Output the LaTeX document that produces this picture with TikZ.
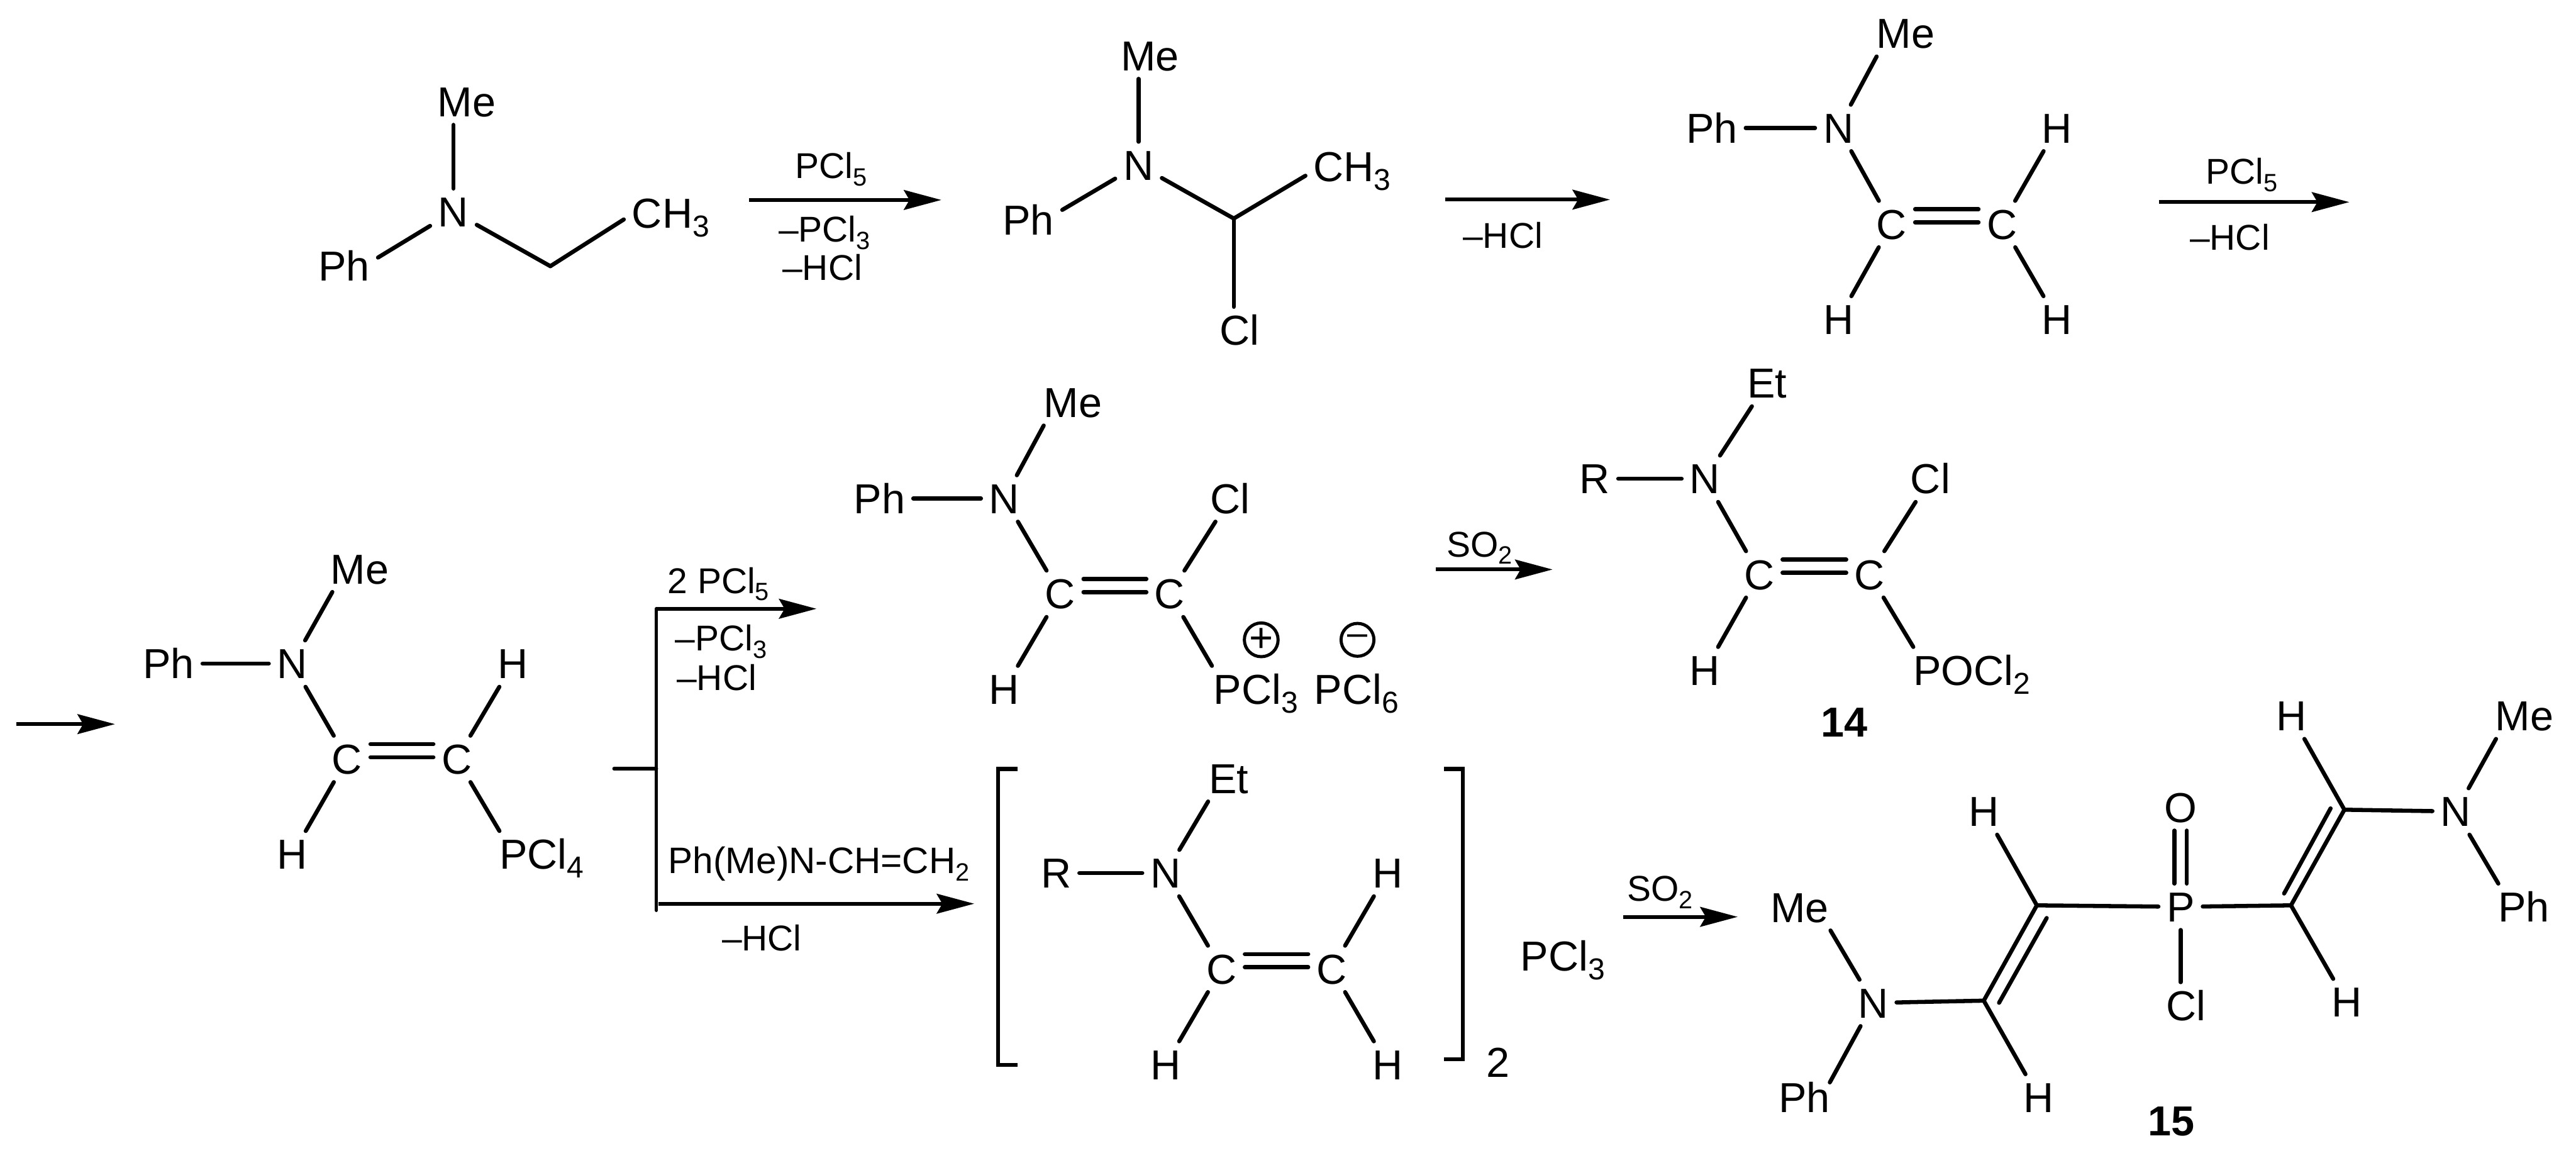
\documentclass[tikz,border=0pt]{standalone}
\usepackage{fontspec}
\setmainfont{Liberation Sans}
\usetikzlibrary{arrows.meta}
\newcommand{\subA}[1]{\raisebox{-2.7pt}{\fontsize{9.2}{11}\selectfont #1}}
\newcommand{\subB}[1]{\raisebox{-2.25pt}{\fontsize{7.6}{9}\selectfont #1}}
\newcommand{\dbl}[2]{%
  \draw[bond] ([yshift=4.5pt]#1.east) -- ([yshift=4.5pt]#2.west);
  \draw[bond] ([yshift=.5pt]#1.east) -- ([yshift=.5pt]#2.west);}
\tikzset{
  atom/.style={inner sep=0pt,outer sep=2.5pt,anchor=base,text height=9.13pt,text depth=0pt,font=\fontsize{12.75}{15}\selectfont},
  atomw/.style={atom,anchor=base west,xshift=-2.5pt},
  reag/.style={inner sep=0pt,outer sep=0pt,anchor=base west,font=\fontsize{10.9}{13}\selectfont},
  cmpd/.style={inner sep=0pt,anchor=base,font=\fontsize{12.75}{15}\selectfont\bfseries},
  bond/.style={line width=1.25pt,line cap=round,line join=miter},
  rxn/.style={line width=1.15pt,-{Stealth[length=11.4pt,width=6pt,inset=1.7pt]}},
  branch/.style={line width=1.1pt,line cap=round},
  brack/.style={line width=1.2pt,line join=miter},
  chg/.style={circle,draw,line width=.95pt,inner sep=0pt,minimum size=10pt,font=\fontsize{12.5}{12.5}\selectfont}
}
\begin{document}
\begin{tikzpicture}[x=0.5pt,y=-0.5pt]
\useasboundingbox (0,0) rectangle (1568,704.56);
% ---------- molecule 1
\node[atom] (aMe) at (284,71) {Me};
\node[atom] (aN) at (276,138) {N};
\node[atom] (aPh) at (209.5,171) {Ph};
\node[atomw] (aCH) at (384.7,138.7) {CH\subA{3}};
\coordinate (aJ) at (335,162);
\draw[bond] (aN) -- (aMe.south -| aN);
\draw[bond] (aN) -- ([yshift=-4.5pt]aPh.north east);
\draw[bond] (aN) -- (aJ);
\draw[bond] (aJ) -- ([yshift=-2pt]aCH.west);
% arrow 1
\coordinate (r1s) at (456,121.7); \coordinate (r1e) at (573,121.7);
\draw[rxn] (r1s) -- (r1e);
\node[reag] (r1a) at (484,108.7) {PCl\subB{5}};
\node[reag] (r1b) at (474,147.3) {–PCl\subB{3}};
\node[reag] (r1c) at (476.3,170.6) {–HCl};
% ---------- molecule 2
\node[atom] (bMe) at (700,43) {Me};
\node[atom] (bN) at (693,109.5) {N};
\node[atom] (bPh) at (626,143) {Ph};
\node[atomw] (bCH) at (799.6,110.5) {CH\subA{3}};
\node[atom] (bCl) at (754.5,210) {Cl};
\coordinate (bJ) at (751,133);
\draw[bond] (bN) -- (bMe.south -| bN);
\draw[bond] (bN) -- ([yshift=-4pt]bPh.north east);
\draw[bond] (bN) -- (bJ);
\draw[bond] (bJ) -- ([yshift=-2.8pt]bCH.west);
\draw[bond] (bJ) -- (bCl.north -| bJ);
% arrow 2
\coordinate (r2s) at (879.6,121.5); \coordinate (r2e) at (980,121.5);
\draw[rxn] (r2s) -- (r2e);
\node[reag] (r2a) at (890.5,151) {–HCl};
% ---------- molecule 3
\node[atom] (cMe) at (1160,29.4) {Me};
\node[atom] (cPh) at (1042,87) {Ph};
\node[atom] (cN) at (1119,87) {N};
\node[atom] (cH1) at (1252,87) {H};
\node[atom] (cC1) at (1151.5,145.5) {C};
\node[atom] (cC2) at (1218.5,145.5) {C};
\node[atom] (cH2) at (1119,203.5) {H};
\node[atom] (cH3) at (1252,203.5) {H};
\draw[bond] (cN) -- ([xshift=2.5pt]cMe.south west);
\draw[bond] (cPh) -- (cN);
\draw[bond] (cN) -- (cC1);
\draw[bond] (cC2) -- (cH1);
\draw[bond] (cC1) -- (cH2);
\draw[bond] (cC2) -- (cH3);
\dbl{cC1}{cC2}
% arrow 3
\coordinate (r3s) at (1314,123); \coordinate (r3e) at (1430,123);
\draw[rxn] (r3s) -- (r3e);
\node[reag] (r3a) at (1342.8,112) {PCl\subB{5}};
\node[reag] (r3b) at (1333,152.3) {–HCl};
% ---------- row 2 start arrow
\coordinate (r4s) at (9.8,440.7); \coordinate (r4e) at (70,440.7);
\draw[rxn] (r4s) -- (r4e);
% ---------- molecule 4
\node[atom] (dMe) at (219,355.3) {Me};
\node[atom] (dPh) at (102.7,413) {Ph};
\node[atom] (dN) at (177.8,413) {N};
\node[atom] (dH1) at (312.3,413) {H};
\node[atom] (dC1) at (211.3,471) {C};
\node[atom] (dC2) at (278,471) {C};
\node[atom] (dH2) at (178,529) {H};
\node[atomw] (dP) at (304,529) {PCl\subA{4}};
\draw[bond] (dN) -- ([xshift=3pt]dMe.south west);
\draw[bond] (dPh) -- (dN);
\draw[bond] (dN) -- (dC1);
\draw[bond] (dC2) -- (dH1);
\draw[bond] (dC1) -- (dH2);
\draw[bond] (dC2) -- ([xshift=2.5pt]dP.north west);
\dbl{dC1}{dC2}
% ---------- branching
\coordinate (sS) at (373.8,467.9); \coordinate (sE) at (399.5,467.9);
\coordinate (bT) at (399.5,370.5); \coordinate (bB) at (399.5,554);
\draw[branch] (bT) -- (bB);
\draw[branch] (sS) -- (sE);
\coordinate (r5e) at (497,370.5);
\draw[rxn] (bT) -- (r5e);
\coordinate (r6s) at (400.7,550); \coordinate (r6e) at (593,550);
\draw[rxn] (r6s) -- (r6e);
\node[reag] (r5a) at (406.4,361) {2 PCl\subB{5}};
\node[reag] (r5b) at (411,396) {–PCl\subB{3}};
\node[reag] (r5c) at (412,420) {–HCl};
\node[reag,font=\fontsize{11.2}{13}\selectfont] (r6a) at (406.8,531.6) {Ph(Me)N-CH=CH\subB{2}};
\node[reag] (r6b) at (439.5,578.7) {–HCl};
% ---------- molecule 5
\node[atom] (eMe) at (653,254) {Me};
\node[atom] (ePh) at (535.3,312.5) {Ph};
\node[atom] (eN) at (611.3,312.5) {N};
\node[atom] (eCl) at (748.8,312.5) {Cl};
\node[atom] (eC1) at (645.3,370.5) {C};
\node[atom] (eC2) at (712,370.5) {C};
\node[atom] (eH) at (611.3,428.5) {H};
\node[atomw] (eP) at (738.7,428.5) {PCl\subA{3}};
\node[atomw] (eQ) at (800,428.5) {PCl\subA{6}};
\node[chg] (ePlus) at (767.7,389.4) {+};
\node[chg,font=\fontsize{11}{11}\selectfont] (eMinus) at (826.3,389.4) {–};
\draw[bond] (eN) -- ([xshift=2.5pt]eMe.south west);
\draw[bond] (ePh) -- (eN);
\draw[bond] (eN) -- (eC1);
\draw[bond] (eC2) -- (eCl);
\draw[bond] (eC1) -- (eH);
\draw[bond] (eC2) -- ([xshift=2pt]eP.north west);
\dbl{eC1}{eC2}
% arrow SO2 -> 14
\coordinate (r7s) at (873.9,346.6); \coordinate (r7e) at (945,346.6);
\draw[rxn] (r7s) -- (r7e);
\node[reag] (r7a) at (880.5,338.8) {SO\subB{2}};
% ---------- molecule 14
\node[atom] (fEt) at (1075.5,242.3) {Et};
\node[atom] (fR) at (970.8,300.5) {R};
\node[atom] (fN) at (1037.8,300.5) {N};
\node[atom] (fCl) at (1175,300.5) {Cl};
\node[atom] (fC1) at (1070.8,358.7) {C};
\node[atom] (fC2) at (1138,358.7) {C};
\node[atom] (fH) at (1037.8,417) {H};
\node[atomw] (fP) at (1164.6,417) {POCl\subA{2}};
\node[cmpd] (f14) at (1122.7,448.5) {14};
\draw[bond] (fN) -- (fEt);
\draw[bond] (fR) -- (fN);
\draw[bond] (fN) -- (fC1);
\draw[bond] (fC2) -- (fCl);
\draw[bond] (fC1) -- (fH);
\draw[bond] (fC2) -- ([xshift=2.5pt]fP.north west);
\dbl{fC1}{fC2}
% ---------- bracketed species
\coordinate (lbA) at (619.3,468); \coordinate (lbB) at (607.5,468);
\coordinate (lbC) at (607.5,648); \coordinate (lbD) at (619.3,648);
\draw[brack] (lbA) -- (lbB) -- (lbC) -- (lbD);
\coordinate (rbA) at (879,468); \coordinate (rbB) at (890.5,468);
\coordinate (rbC) at (890.5,644.6); \coordinate (rbD) at (879,644.6);
\draw[brack] (rbA) -- (rbB) -- (rbC) -- (rbD);
\node[atom] (gEt) at (748,482.8) {Et};
\node[atom] (gR) at (642.8,540.5) {R};
\node[atom] (gN) at (709.5,540.5) {N};
\node[atom] (gH1) at (844.5,540.5) {H};
\node[atom] (gC1) at (743.5,598.8) {C};
\node[atom] (gC2) at (810.5,598.8) {C};
\node[atom] (gH2) at (709.5,657) {H};
\node[atom] (gH3) at (844.5,657) {H};
\node[atom] (gTwo) at (912,655.5) {2};
\node[atomw] (gP) at (925.6,591) {PCl\subA{3}};
\draw[bond] (gN) -- ([xshift=2.2pt]gEt.south west);
\draw[bond] (gR) -- (gN);
\draw[bond] (gN) -- (gC1);
\draw[bond] (gC2) -- (gH1);
\draw[bond] (gC1) -- (gH2);
\draw[bond] (gC2) -- (gH3);
\dbl{gC1}{gC2}
% arrow SO2 -> 15
\coordinate (r8s) at (988,558); \coordinate (r8e) at (1057.7,558);
\draw[rxn] (r8s) -- (r8e);
\node[reag] (r8a) at (990.5,548.4) {SO\subB{2}};
% ---------- molecule 15
\node[atom] (hMe1) at (1095.5,561.3) {Me};
\node[atom] (hN1) at (1140.2,619.5) {N};
\node[atom] (hPh1) at (1098.2,677) {Ph};
\node[atom] (hH1) at (1207.7,503) {H};
\node[atom] (hH2) at (1240.9,677) {H};
\node[atom] (hP) at (1327.3,561) {P};
\node[atom] (hO) at (1327.3,500.5) {O};
\node[atom] (hCl) at (1330.5,621) {Cl};
\node[cmpd] (h15) at (1321.7,691) {15};
\node[atom] (hH3) at (1394.7,444.7) {H};
\node[atom] (hH4) at (1428.3,619) {H};
\node[atom] (hN2) at (1494.8,503) {N};
\node[atom] (hMe2) at (1536.6,444.7) {Me};
\node[atom] (hPh2) at (1536.3,561) {Ph};
\coordinate (hA) at (1207.5,609);
\coordinate (hB) at (1239.8,551);
\coordinate (hC) at (1394.5,551);
\coordinate (hD) at (1427,492.8);
\coordinate (hAi) at (1216.8,610.3); \coordinate (hBi) at (1245.8,558.7);
\coordinate (hCi) at (1390.3,543.8); \coordinate (hDi) at (1418.6,492);
\draw[bond] ([xshift=-2pt]hMe1.south east) -- (hN1);
\draw[bond] (hN1) -- ([xshift=-2.5pt,yshift=-2.5pt]hPh1.north east);
\draw[bond] (hN1) -- (hA);
\draw[bond] (hA) -- (hB);
\draw[bond] (hAi) -- (hBi);
\draw[bond] (hA) -- (hH2);
\draw[bond] (hB) -- (hH1);
\draw[bond] (hB) -- (hP);
\draw[bond] (hP) -- (hC);
\draw[bond] ([xshift=-1.9pt]hP.north) -- ([xshift=-1.9pt]hO.south);
\draw[bond] ([xshift=1.9pt]hP.north) -- ([xshift=1.9pt]hO.south);
\draw[bond] (hP.south) -- (hCl.north -| hP.south);
\draw[bond] (hC) -- (hD);
\draw[bond] (hCi) -- (hDi);
\draw[bond] (hC) -- (hH4);
\draw[bond] (hD) -- (hH3);
\draw[bond] (hD) -- (hN2);
\draw[bond] (hN2) -- ([xshift=2.7pt]hMe2.south west);
\draw[bond] (hN2) -- ([xshift=2.5pt]hPh2.north west);
\end{tikzpicture}
\end{document}
